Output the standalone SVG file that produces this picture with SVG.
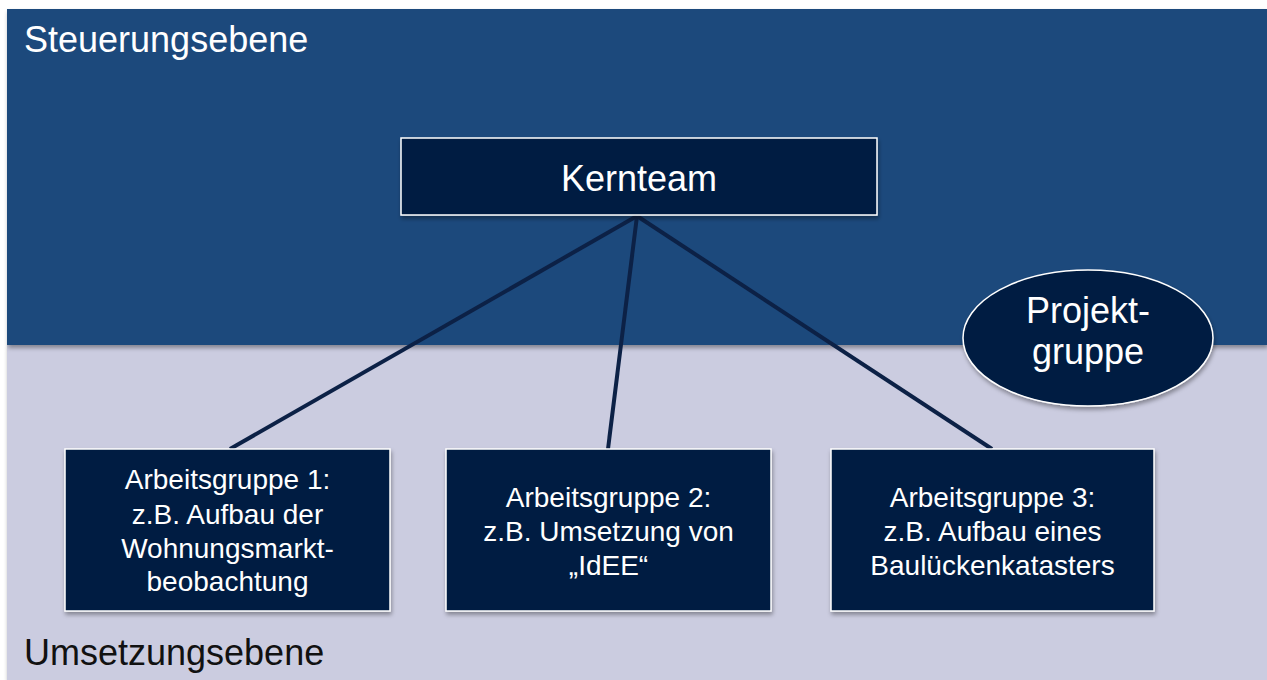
<svg xmlns="http://www.w3.org/2000/svg" width="1267" height="680" viewBox="0 0 1267 680">
<defs>
<filter id="sh" x="-10%" y="-10%" width="120%" height="130%">
<feDropShadow dx="1" dy="3" stdDeviation="2" flood-color="#000" flood-opacity="0.35"/>
</filter>
</defs>
<style>
.node{fill:#001d42;stroke:#ffffff;stroke-width:1.5}
.t{font-family:"Liberation Sans",Arial,sans-serif;fill:#ffffff;text-anchor:middle}
.ag{font-size:28px}
.big{font-size:36px}
.lvl{font-family:"Liberation Sans",Arial,sans-serif;font-size:36px}
.conn{stroke:#0c2146;stroke-width:4;fill:none;stroke-linecap:butt}
</style>
<rect x="0" y="0" width="1267" height="680" fill="#ffffff"/>
<g id="umsetzungsebene">
<rect x="7" y="345" width="1260" height="335" fill="#cbcce0" filter="url(#sh)"/>
<text class="lvl" x="24" y="665" fill="#111111">Umsetzungsebene</text>
</g>
<g id="steuerungsebene">
<rect x="7" y="9" width="1260" height="336" fill="#1f497c" filter="url(#sh)"/>
<text class="lvl" x="24" y="52" fill="#ffffff">Steuerungsebene</text>
</g>
<g id="connectors">
<line class="conn" x1="637" y1="216" x2="230" y2="449"/>
<line class="conn" x1="637" y1="216" x2="608" y2="449"/>
<line class="conn" x1="637" y1="216" x2="992" y2="449"/>
</g>
<g id="kernteam">
<rect class="node" x="401" y="138" width="476" height="77" filter="url(#sh)"/>
<text class="t big" x="639" y="191">Kernteam</text>
</g>
<g id="projektgruppe">
<ellipse class="node" cx="1088" cy="338" rx="125" ry="68" filter="url(#sh)"/>
<text class="t big" x="1088" y="323">Projekt-</text>
<text class="t big" x="1088" y="364">gruppe</text>
</g>
<g id="ag1">
<rect class="node" x="65" y="449" width="325" height="162" filter="url(#sh)"/>
<text class="t ag" x="227.5" y="489">Arbeitsgruppe 1:</text>
<text class="t ag" x="227.5" y="524">z.B. Aufbau der</text>
<text class="t ag" x="227.5" y="558">Wohnungsmarkt-</text>
<text class="t ag" x="227.5" y="591">beobachtung</text>
</g>
<g id="ag2">
<rect class="node" x="446" y="449" width="325" height="162" filter="url(#sh)"/>
<text class="t ag" x="608.5" y="507">Arbeitsgruppe 2:</text>
<text class="t ag" x="608.5" y="541">z.B. Umsetzung von</text>
<text class="t ag" x="608.5" y="575">„IdEE“</text>
</g>
<g id="ag3">
<rect class="node" x="831" y="449" width="323" height="162" filter="url(#sh)"/>
<text class="t ag" x="992.5" y="507">Arbeitsgruppe 3:</text>
<text class="t ag" x="992.5" y="541">z.B. Aufbau eines</text>
<text class="t ag" x="992.5" y="575">Baulückenkatasters</text>
</g>
</svg>
